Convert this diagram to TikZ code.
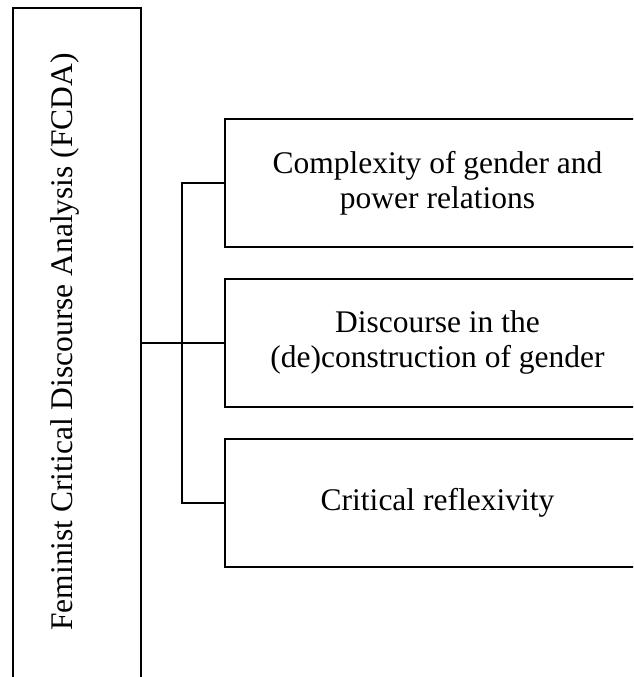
\documentclass[tikz,border=0pt]{standalone}
\usepackage{fontspec}
\setmainfont{Liberation Serif}
\usepackage{tikz}
\usetikzlibrary{positioning}

\tikzset{
  topic/.style={draw, line width=1.9pt, minimum width=425pt, minimum height=128pt,
    align=center, inner sep=0pt, font=\fontsize{31.5}{35}\selectfont},
  link/.style={line width=1.9pt}
}

\begin{document}
\begin{tikzpicture}[x=1pt, y=-1pt]
\useasboundingbox (0,0) rectangle (633,677);
\clip (0,0) rectangle (633,677);

% Draw main box
\node[draw, line width=1.9pt, minimum width=128pt, minimum height=684pt, inner sep=0pt] (fcda) at (77,350) {};
\node[rotate=90, anchor=base, font=\fontsize{31.5}{35}\selectfont] (fcdatext) at (72,342) {Feminist Critical Discourse Analysis (FCDA)};

% Draw topic boxes
\node[topic] (complexity) at (437.5,183) {Complexity of gender and\\power relations};
\node[topic, below=30pt of complexity] (discourse) {Discourse in the\\(de)construction of gender};
\node[topic, below=30pt of discourse] (reflexivity) {Critical reflexivity};

% Draw connectors
\coordinate (fork) at ([xshift=-42pt]discourse.west);
\draw[link] (fcda.east |- fork) -- (fork);
\draw[link] (complexity.west) -| (fork) |- (reflexivity.west);
\draw[link] (fork) -- (discourse.west);

\end{tikzpicture}
\end{document}
